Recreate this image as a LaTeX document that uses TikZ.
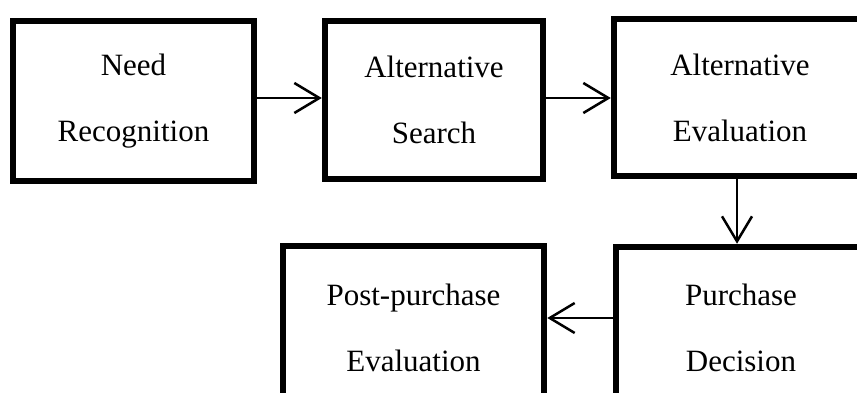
\documentclass[tikz,border=0pt]{standalone}
\usepackage{fontspec}
\setmainfont{Liberation Serif}
\usetikzlibrary{arrows.meta}
\tikzset{>={Straight Barb[length=25pt,width=30pt]}}
\tikzset{stage/.style={draw, line width=6.5pt, align=center, inner sep=0pt, font=\fontsize{31}{66}\selectfont}}

\begin{document}
\begin{tikzpicture}[x=1pt,y=1pt]
    \useasboundingbox (0,0) rectangle (857,392);
    \clip (0,0) rectangle (857,392);
    % top row
    \node [stage, minimum width=241pt, minimum height=160pt] (need) at (133.5,291) {Need\\Recognition};
    \node [stage, minimum width=218pt, minimum height=158pt] (search) at (434,292) {Alternative\\Search};
    \node [stage, minimum width=252pt, minimum height=157pt] (altEval) at (740,294.5) {Alternative\\Evaluation};
    % bottom row, runs off the page
    \node [stage, minimum width=250pt, minimum height=161pt] (purchase) at (741,64.5) {Purchase\\Decision};
    \node [stage, minimum width=261pt, minimum height=164pt] (post) at (413.5,64) {Post-purchase\\Evaluation};
    % arrows
    \draw [->, line width=2.5pt] ([yshift=3pt]need.east) -- ([yshift=3pt]need.east -| search.west);
    \draw [->, line width=2.5pt] ([yshift=2pt]search.east) -- ([yshift=2pt]search.east -| altEval.west);
    \draw [->, line width=2.5pt] ([xshift=-3pt]altEval.south) -- ([xshift=-3pt]altEval.south |- purchase.north);
    \draw [->, line width=2.5pt] ([yshift=9.5pt]purchase.west) -- ([yshift=9.5pt]purchase.west -| post.east);
\end{tikzpicture}
\end{document}
